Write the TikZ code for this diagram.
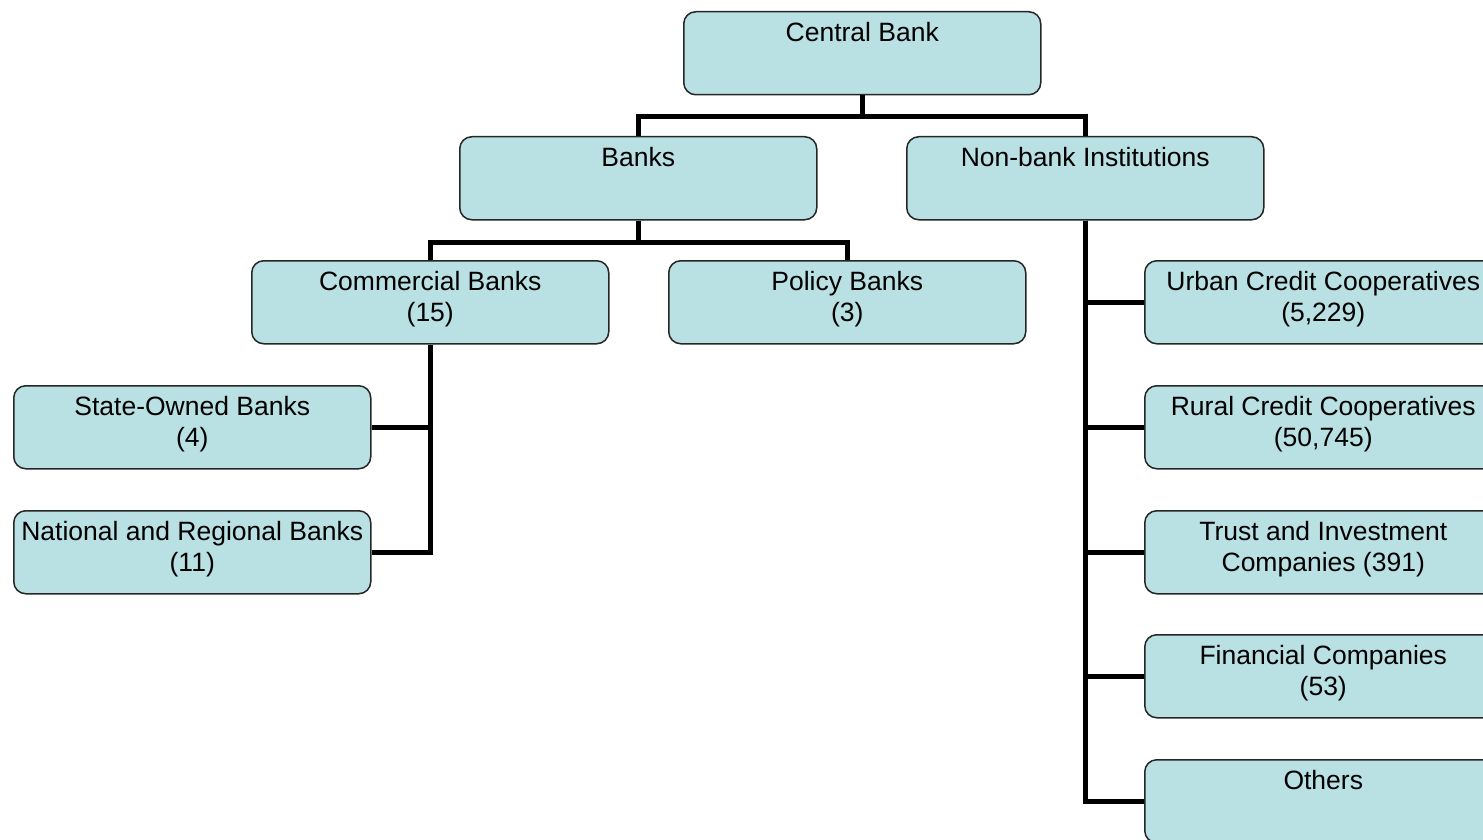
\documentclass[tikz,border=0pt]{standalone}
\usepackage{fontspec}
\setmainfont{Liberation Sans}
\definecolor{boxfill}{RGB}{185,224,227}
\newcommand{\bt}[2]{\parbox[c][83pt][t]{357pt}{\centering\rule{0pt}{30pt}#1\\#2}}
\begin{document}
\begin{tikzpicture}[x=1pt,y=-1pt,
  orgbox/.style={draw=black!85, line width=1.5pt, fill=boxfill, rounded corners=12pt,
    minimum width=357pt, minimum height=83pt, inner sep=0pt, anchor=north west,
    font=\fontsize{26.5}{31}\selectfont},
  link/.style={draw=black, line width=5.5pt}]
\clip (0,0) rectangle (1483,840);
\fill[white] (0,0) rectangle (1483,840);
% nodes
\node[orgbox] (cb) at (683,11) {\bt{Central Bank}{}};
\node[orgbox] (banks) at (459,136) {\bt{Banks}{}};
\node[orgbox] (nonbank) at (906,136) {\bt{Non-bank Institutions}{}};
\node[orgbox] (commercial) at (251,260) {\bt{Commercial Banks}{(15)}};
\node[orgbox] (policy) at (668,260) {\bt{Policy Banks}{(3)}};
\node[orgbox] (state) at (13,385) {\bt{State-Owned Banks}{(4)}};
\node[orgbox] (national) at (13,510) {\bt{National and Regional Banks}{(11)}};
\node[orgbox] (urban) at (1144,260) {\bt{Urban Credit Cooperatives}{(5,229)}};
\node[orgbox] (rural) at (1144,385) {\bt{Rural Credit Cooperatives}{(50,745)}};
\node[orgbox] (trust) at (1144,510) {\bt{Trust and Investment}{Companies (391)}};
\node[orgbox] (financial) at (1144,634) {\bt{Financial Companies}{(53)}};
\node[orgbox] (others) at (1144,759) {\bt{Others}{}};
% connectors
\draw[link] (cb.south) -- ++(0,21) -| (banks.north);
\draw[link] (cb.south) -- ++(0,21) -| (nonbank.north);
\draw[link] (banks.south) -- ++(0,22) -| (commercial.north);
\draw[link] (banks.south) -- ++(0,22) -| (policy.north);
\draw[link] (commercial.south) |- (state.east);
\draw[link] (commercial.south) |- (national.east);
\draw[link] (nonbank.south) |- (urban.west);
\draw[link] (nonbank.south) |- (rural.west);
\draw[link] (nonbank.south) |- (trust.west);
\draw[link] (nonbank.south) |- (financial.west);
\draw[link] (nonbank.south) |- (others.west);
\end{tikzpicture}
\end{document}
